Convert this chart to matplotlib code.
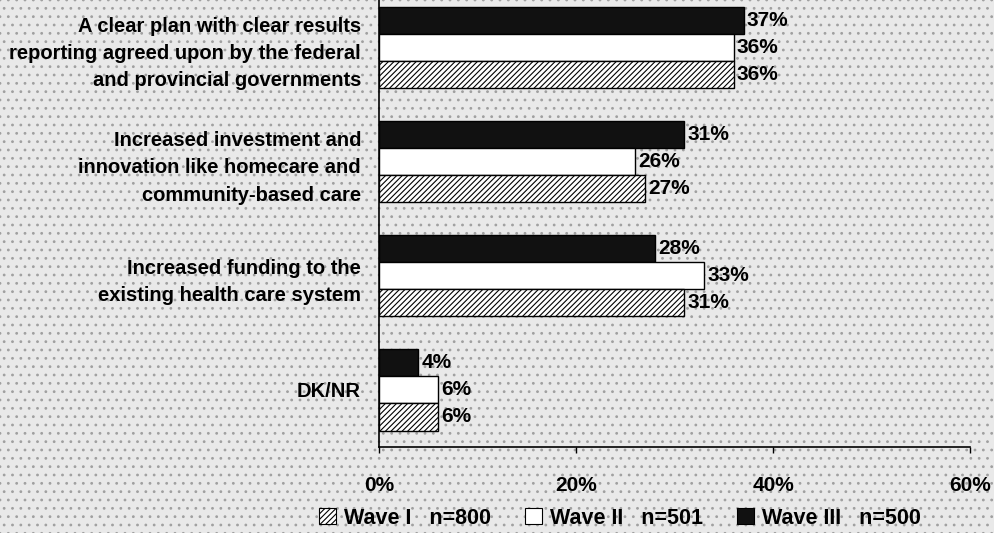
import matplotlib
matplotlib.use("Agg")
import matplotlib.pyplot as plt
from matplotlib.patches import Rectangle, Patch
import numpy as np

categories = [
    "A clear plan with clear results\nreporting agreed upon by the federal\nand provincial governments",
    "Increased investment and\ninnovation like homecare and\ncommunity-based care",
    "Increased funding to the\nexisting health care system",
    "DK/NR",
]
wave1 = [36, 27, 31, 6]
wave2 = [36, 26, 33, 6]
wave3 = [37, 31, 28, 4]
series_labels = ["Wave I   n=800", "Wave II   n=501", "Wave III   n=500"]
xticks = [0, 20, 40, 60]

plt.rcParams["font.family"] = ["Liberation Sans", "DejaVu Sans"]
plt.rcParams["font.weight"] = "bold"
plt.rcParams["hatch.linewidth"] = 0.8

fig = plt.figure(figsize=(9.95, 5.33), dpi=100)
bg = "#e9e9e9"
fig.patch.set_facecolor(bg)
# stippled paper texture
fig.patches.append(Rectangle((0, 0), 1, 1, transform=fig.transFigure, facecolor="none",
                             edgecolor="#a0a0a0", hatch="..", linewidth=0, zorder=-10))

ax = fig.add_axes([0.381, 1 - 447 / 533, 0.594, 447 / 533])
ax.set_facecolor("none")

y = np.arange(len(categories))
h = 0.237
bar_kw = dict(height=h, edgecolor="black", linewidth=1.0, zorder=3)
b3 = ax.barh(y - h, wave3, color="#111111", **bar_kw)
b2 = ax.barh(y, wave2, color="white", **bar_kw)
b1 = ax.barh(y + h, wave1, color="white", hatch="//////", **bar_kw)

for bars, vals in ((b3, wave3), (b2, wave2), (b1, wave1)):
    for bar, v in zip(bars, vals):
        ax.text(v + 0.3, bar.get_y() + bar.get_height() / 2, f"{v}%",
                va="center", ha="left", fontsize=15, fontweight="bold")

ax.set_xlim(0, 60)
ax.set_ylim(3.5, -0.416)
ax.set_xticks(xticks)
ax.set_xticklabels([f"{t}%" for t in xticks], fontsize=15, fontweight="bold")
ax.tick_params(axis="x", direction="out", length=4, width=1, pad=17)
ax.set_yticks(y)
ax.set_yticklabels(categories, fontsize=14.5, fontweight="bold", linespacing=1.55)
ax.tick_params(axis="y", length=0, pad=13)
for s in ("top", "right"):
    ax.spines[s].set_visible(False)
for s in ("left", "bottom"):
    ax.spines[s].set_linewidth(1.2)
    ax.spines[s].set_color("black")

handles = [
    Patch(facecolor="white", edgecolor="black", hatch="//////", linewidth=0.8),
    Patch(facecolor="white", edgecolor="black", linewidth=0.8),
    Patch(facecolor="#111111", edgecolor="black", linewidth=0.8),
]
fig.legend(handles, series_labels, loc="center", bbox_to_anchor=(0.623, 0.028),
           ncol=3, frameon=False, handlelength=0.8, handleheight=0.8,
           handletextpad=0.35, columnspacing=1.6, prop={"weight": "bold", "size": 15.5})

fig.savefig("out.png", dpi=100, facecolor=bg)
